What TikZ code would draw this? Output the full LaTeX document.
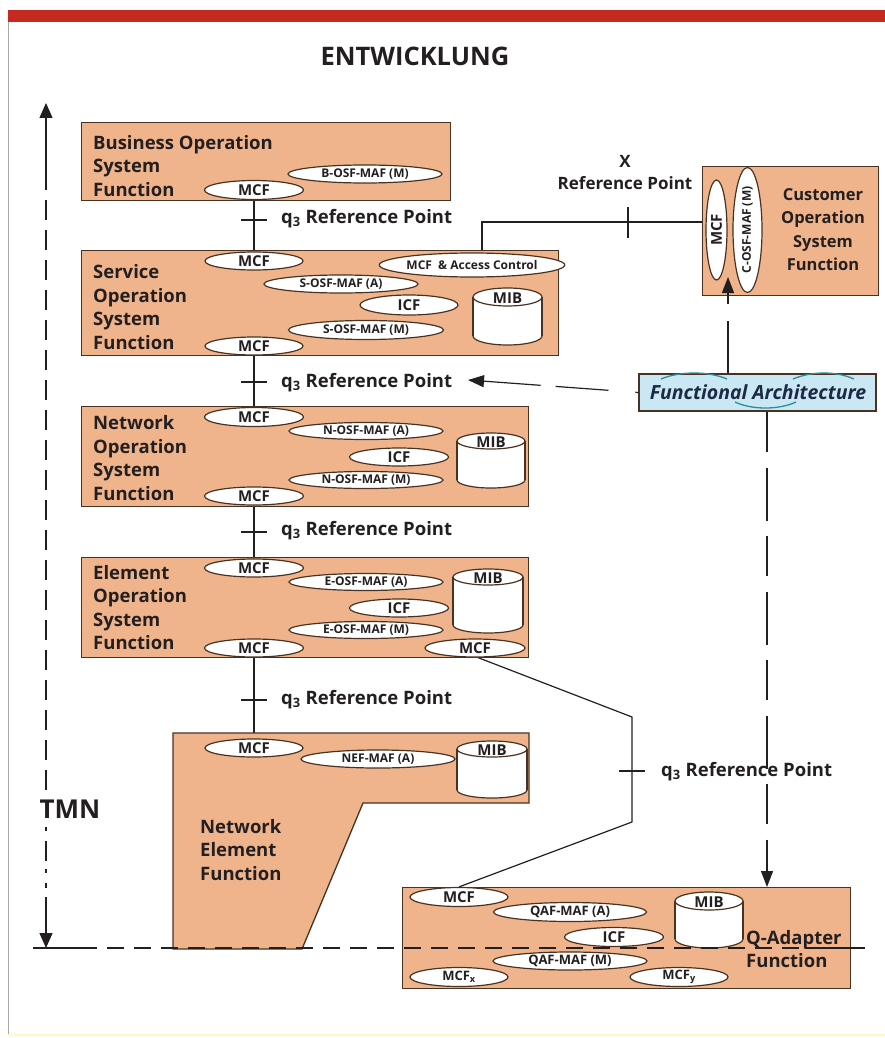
\documentclass[tikz,border=0pt]{standalone}
\usepackage{fontspec}
\setmainfont{Open Sans}
\usetikzlibrary{shapes.geometric,arrows.meta,calc,backgrounds}
\definecolor{peach}{HTML}{F0B48C}
\definecolor{bord}{HTML}{4A3222}
\definecolor{ink}{HTML}{231F20}
\definecolor{fablue}{HTML}{C9E8F4}
\definecolor{archarc}{HTML}{2F8C99}
\definecolor{redbar}{HTML}{C42A1F}
\definecolor{navy}{HTML}{1E2A44}
\newcommand\mibcyl[6]{% name, x1, x2, yt, yb, ry
  \fill[white] (#2,#4) rectangle (#3,#5);
  \fill[white] ({(#2+#3)/2},#5) ellipse ({(#3-#2)/2} and #6);
  \draw[bord,line width=1.2pt] (#2,#4) -- (#2,#5);
  \draw[bord,line width=1.2pt] (#3,#4) -- (#3,#5);
  \begin{scope}
    \clip (#2-3,#5) rectangle (#3+3,#5+#6+3);
    \draw[bord,line width=1.2pt] ({(#2+#3)/2},#5) ellipse ({(#3-#2)/2} and #6);
  \end{scope}
  \draw[bord,line width=1.2pt,fill=white] ({(#2+#3)/2},#4) ellipse ({(#3-#2)/2} and #6);
  \node[font=\bfseries\fontsize{15}{15}\selectfont, inner sep=0pt] (#1) at ({(#2+#3)/2},#4+1) {MIB};
}
\begin{document}
\begin{tikzpicture}[x=1pt,y=-1pt,
  every node/.style={text=ink},
  box/.style={draw=bord, fill=peach, line width=1.3pt, inner sep=0pt, anchor=north west},
  fe/.style={ellipse, draw=bord, fill=white, line width=1.2pt, inner sep=0pt, font=\bfseries\fontsize{15}{15}\selectfont},
  fesm/.style={fe, font=\bfseries\fontsize{12}{12}\selectfont},
  lbl/.style={font=\bfseries\fontsize{18.5}{23.5}\selectfont, align=left, inner sep=0pt, anchor=north west},
  reftxt/.style={font=\bfseries\fontsize{18.5}{18.5}\selectfont, inner sep=0pt, anchor=base west},
  conn/.style={draw=ink, line width=1.2pt},
  tri/.style={-{Triangle[length=16pt,width=12pt]}}]
\useasboundingbox (0,0) rectangle (885,1038);
% frame
\fill[redbar] (8,10) rectangle (885,22);
\draw[gray!70, line width=1pt] (8,22) -- (8,1036);
\draw[yellow!25, line width=1.5pt] (8,1035) -- (885,1035);
\node[font=\bfseries\fontsize{25.5}{25.5}\selectfont, anchor=base, inner sep=0pt] (title) at (415,66) {ENTWICKLUNG};

% Business
\node[box, minimum width=369pt, minimum height=78pt] (bus) at (81,122) {};
\node[lbl] (bustxt) at (93,135) {Business Operation\\System\\Function};
\node[fesm, minimum width=154pt, minimum height=18pt] (busMAF) at (365,174) {B-OSF-MAF (M)};
\node[fe, minimum width=99pt, minimum height=19pt] (busMCF) at (254,190) {MCF};

% Service
\node[box, minimum width=477pt, minimum height=105pt] (svc) at (81,250) {};
\node[lbl] (svctxt) at (93,264.5) {Service\\Operation\\System\\Function};
\node[fe, minimum width=98pt, minimum height=18pt] (svcMCFt) at (254,261) {MCF};
\node[fesm, minimum width=170pt, minimum height=24pt] (svcAC) at (472,265) {MCF\ \ \& Access Control};
\node[fesm, minimum width=154pt, minimum height=18pt] (svcMAFA) at (341,284) {S-OSF-MAF (A)};
\node[fe, minimum width=98pt, minimum height=20pt] (svcICF) at (409,305) {ICF};
\node[fesm, minimum width=155pt, minimum height=19pt] (svcMAFM) at (366,330) {S-OSF-MAF (M)};
\node[fe, minimum width=98pt, minimum height=18pt] (svcMCFb) at (254,346) {MCF};
\mibcyl{svcMIB}{473}{542}{297}{336}{9}

% Network
\node[box, minimum width=447pt, minimum height=100pt] (net) at (81,406) {};
\node[lbl] (nettxt) at (93,415.5) {Network\\Operation\\System\\Function};
\node[fe, minimum width=99pt, minimum height=19pt] (netMCFt) at (254,417) {MCF};
\node[fesm, minimum width=154pt, minimum height=17pt] (netMAFA) at (366,431) {N-OSF-MAF (A)};
\node[fe, minimum width=99pt, minimum height=18pt] (netICF) at (399,457) {ICF};
\node[fesm, minimum width=154pt, minimum height=17pt] (netMAFM) at (366,480) {N-OSF-MAF (M)};
\node[fe, minimum width=99pt, minimum height=18pt] (netMCFb) at (254,496) {MCF};
\mibcyl{netMIB}{457}{525}{441}{480}{8}

% Element
\node[box, minimum width=447pt, minimum height=100pt] (ele) at (81,557) {};
\node[lbl] (eletxt) at (93,565) {Element\\Operation\\System\\Function};
\node[fe, minimum width=99pt, minimum height=18pt] (eleMCFt) at (254,568) {MCF};
\node[fesm, minimum width=154pt, minimum height=17pt] (eleMAFA) at (366,582) {E-OSF-MAF (A)};
\node[fe, minimum width=99pt, minimum height=18pt] (eleICF) at (399,608) {ICF};
\node[fesm, minimum width=154pt, minimum height=17pt] (eleMAFM) at (366,630) {E-OSF-MAF (M)};
\node[fe, minimum width=99pt, minimum height=18pt] (eleMCFb) at (254,648) {MCF};
\node[fe, minimum width=100pt, minimum height=18pt] (eleMCFr) at (475,648) {MCF};
\mibcyl{eleMIB}{453}{523}{577}{625}{8}

% Network Element Function
\filldraw[fill=peach, draw=bord, line width=1.3pt] (173,733) -- (529,733) -- (529,803) -- (363,803) -- (302,949) -- (173,949) -- cycle;
\coordinate (nefTop) at (254,733);
\node[lbl] (neftext) at (200,819) {Network\\Element\\Function};
\node[fe, minimum width=98pt, minimum height=18pt] (nefMCF) at (254,748) {MCF};
\node[fesm, minimum width=154pt, minimum height=18pt] (nefMAF) at (378,759) {NEF-MAF (A)};
\mibcyl{nefMIB}{457}{527}{749}{790}{8}

% Q-Adapter
\node[box, minimum width=448pt, minimum height=101pt] (qa) at (402,887) {};
\node[fe, minimum width=98pt, minimum height=19pt] (qMCF) at (459,897) {MCF};
\node[fe, minimum width=153pt, minimum height=19pt, font=\bfseries\fontsize{13}{13}\selectfont] (qMAFA) at (570,912) {QAF-MAF (A)};
\node[fe, minimum width=99pt, minimum height=19pt] (qICF) at (614,937) {ICF};
\node[fe, minimum width=154pt, minimum height=18pt, font=\bfseries\fontsize{13}{13}\selectfont] (qMAFM) at (570,961) {QAF-MAF (M)};
\node[fe, minimum width=98pt, minimum height=19pt, font=\bfseries\fontsize{13}{13}\selectfont] (qMCFx) at (459,977) {MCF\textsubscript{x}};
\node[fe, minimum width=98pt, minimum height=19pt, font=\bfseries\fontsize{13}{13}\selectfont] (qMCFy) at (679,977) {MCF\textsubscript{y}};
\mibcyl{qMIB}{675}{743}{901}{939}{9}
\node[lbl] (qtxt) at (746,930) {Q-Adapter\\Function};

% Customer
\node[box, minimum width=176pt, minimum height=129pt] (cust) at (702,166) {};
\node[fe, rotate=90, minimum width=100pt, minimum height=21pt] (custMCF) at (716.5,230) {MCF};
\node[fesm, rotate=90, minimum width=125pt, minimum height=29pt] (custMAF) at (747.5,230) {C-OSF-MAF (M)};
\node[font=\bfseries\fontsize{16.5}{23.5}\selectfont, align=center, inner sep=0pt, anchor=north] (custtxt) at (823,188) {Customer\\Operation\\System\\Function};

% Functional Architecture
\node[draw=bord, fill=fablue, line width=1.2pt, inner sep=0pt, minimum width=237pt, minimum height=37pt] (fa) at (757.5,392.5) {};
\draw[archarc, line width=1.3pt] (661,379) .. controls (680,371) and (708,371) .. (727,379);
\draw[archarc, line width=1.3pt] (793,379) .. controls (812,371) and (836,371) .. (854,379);
\draw[archarc, line width=1.3pt] (735,402) .. controls (752,410) and (779,410) .. (796,402);
\node[font=\bfseries\itshape\fontsize{19.5}{19.5}\selectfont, text=navy, inner sep=0pt, anchor=base] (fatxt) at (758,399) {Functional Architecture};

% reference point labels
\node[reftxt] (q1) at (281,223) {q\textsubscript{3} Reference Point};
\node[reftxt] (q2) at (281,387) {q\textsubscript{3} Reference Point};
\node[reftxt] (q3) at (281,535) {q\textsubscript{3} Reference Point};
\node[reftxt] (q4) at (281,704) {q\textsubscript{3} Reference Point};
\node[reftxt] (q5) at (661,776) {q\textsubscript{3} Reference Point};
\node[font=\bfseries\fontsize{17}{22}\selectfont, align=center, inner sep=0pt, anchor=north] (xref) at (625,155) {X\\Reference Point};
\node[font=\bfseries\fontsize{26}{26}\selectfont, inner sep=0pt, anchor=base, fill=white] (tmn) at (70,818) {TMN};

% coordinates
\coordinate (t1) at (254,220);
\coordinate (t2) at (254,382);
\coordinate (t3) at (254,532);
\coordinate (t4) at (254,700);
\coordinate (t5) at (632,771);
\coordinate (tx) at (628,222);
\coordinate (xcorner) at (482,222);
\coordinate (xend) at (707,222);
\coordinate (r1) at (632,717);
\coordinate (r2) at (632,822);
\coordinate (custtip) at (728,277);
\coordinate (q2tip) at (468,380);
\coordinate (axTop) at (46,103);
\coordinate (axBot) at (46,948);
\coordinate (blL) at (33,948);
\coordinate (blR) at (865,948);

\begin{scope}[on background layer]
  \draw[conn] (busMCF.south) -- (svcMCFt.north);
  \draw[conn] (svcMCFb.south) -- (netMCFt.north);
  \draw[conn] (netMCFb.south) -- (eleMCFt.north);
  \draw[conn] (eleMCFb.south) -- (nefTop);
  \draw[conn] (xcorner |- svcAC.north) -- (xcorner) -- (xend);
  \draw[conn] ([xshift=3pt]eleMCFr.south) -- (r1) -- (r2) -- (qMCF.north);
\end{scope}
% ticks
\foreach \t in {t1,t2,t3,t4,t5} \draw[conn] ([xshift=-13pt]\t) -- ([xshift=13pt]\t);
\draw[conn] ([yshift=15pt]tx) -- ([yshift=-16pt]tx);

% functional architecture arrows
\draw[conn, tri, dash pattern=on 52pt off 17pt] (fa.north -| custtip) -- (custtip);
\draw[conn, tri, dash pattern=on 3pt off 27pt on 53pt off 15pt on 80pt off 0pt] (fa.west) -- (q2tip);
\draw[conn, tri, dash pattern=on 40pt off 16pt on 53pt off 15pt] (fa.south -| 767,0) -- (qa.north -| 767,0);

% TMN axis
\draw[conn, -{Triangle[length=15pt,width=13pt]}] (46,190) -- (axTop);
\draw[conn, dash pattern=on 20pt off 10pt] (46,200) -- (46,790);
\draw[conn, dash pattern=on 4pt off 10pt on 20pt off 8pt] (46,827) -- (46,888);
\draw[conn, -{Triangle[length=15pt,width=13pt]}] (46,897) -- (axBot);

% baseline
\draw[conn] (blL) -- (97,948);
\draw[conn, dash pattern=on 17pt off 10pt] (107,948) -- (800,948);
\draw[conn] (805,948) -- (blR);
\end{tikzpicture}
\end{document}
